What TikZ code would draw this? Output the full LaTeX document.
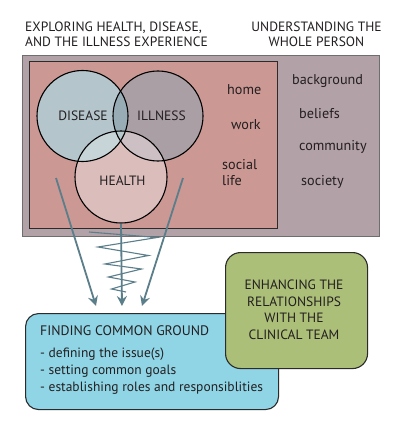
\documentclass[tikz,border=0pt]{standalone}
\usepackage{fontspec}
\setmainfont{PT Sans}
\usetikzlibrary{arrows.meta}
\definecolor{outerfill}{HTML}{B2A1A7}
\definecolor{outerline}{HTML}{6E6E6E}
\definecolor{innerfill}{HTML}{CC9894}
\definecolor{innerline}{HTML}{2B2B2B}
\definecolor{cdisease}{HTML}{B4C5CC}
\definecolor{cillness}{HTML}{AB9FA6}
\definecolor{chealth}{HTML}{DBBDBB}
\definecolor{cdi}{HTML}{97ACB5}
\definecolor{cdh}{HTML}{C7D5D9}
\definecolor{cih}{HTML}{CCC0C5}
\definecolor{cdih}{HTML}{B7C8CC}
\definecolor{arrowc}{HTML}{5B7E8B}
\definecolor{bluefill}{HTML}{8FD5E6}
\definecolor{greenfill}{HTML}{ACBF79}
\definecolor{txt}{HTML}{231F20}
\begin{document}
\begin{tikzpicture}[x=1pt,y=-1pt,
  every node/.style={text=txt, font=\fontsize{13.5}{16}\selectfont},
  lbl/.style={anchor=base, inner sep=0pt},
  lblw/.style={anchor=base west, inner sep=0pt},
  small/.style={font=\fontsize{14.2}{16}\selectfont},
  bullet/.style={font=\fontsize{13.5}{16}\selectfont},
  ring/.style={circle, draw=black, line width=1.1pt, inner sep=0pt},
  conn/.style={draw=arrowc, line width=1.8pt, -{Stealth[length=10pt,width=10pt,inset=3.5pt]}},
  zig/.style={draw=arrowc, line width=1.1pt},
  box/.style={draw=innerline, line width=1.1pt, rounded corners=13pt, anchor=north west, inner sep=0pt}]
\useasboundingbox (0,0) rectangle (400,428);
\fill[white] (0,0) rectangle (400,428);

% headers
\node[lblw] (h1a) at (25,32) {EXPLORING HEALTH, DISEASE,};
\node[lblw] (h1b) at (25,47) {AND THE ILLNESS EXPERIENCE};
\node[lbl] (h2a) at (316.5,32) {UNDERSTANDING THE};
\node[lbl] (h2b) at (316.5,47) {WHOLE PERSON};

% outer and inner rectangles
\node[draw=outerline, fill=outerfill, line width=1.2pt, minimum width=357pt, minimum height=181pt, anchor=north west, inner sep=0pt] (outer) at (22,55) {};
\node[draw=innerline, fill=innerfill, line width=1.1pt, minimum width=248pt, minimum height=167pt, anchor=north west, inner sep=0pt] (inner) at (29,61) {};

% circles
\node[ring, draw=none, fill=cdisease, minimum size=91pt] (disease) at (82.5,116) {};
\node[ring, draw=none, fill=cillness, minimum size=90pt] (illness) at (158,116) {};
\begin{scope}
  \clip (disease.center) circle[radius=45.5pt];
  \fill[cdi] (illness.center) circle[radius=45pt];
\end{scope}
\node[ring, draw=none, fill=chealth, minimum size=92pt] (health) at (121,177) {};
\begin{scope}
  \clip (health.center) circle[radius=46pt];
  \fill[cdh] (disease.center) circle[radius=45.5pt];
  \fill[cih] (illness.center) circle[radius=45pt];
  \clip (disease.center) circle[radius=45.5pt];
  \fill[cdih] (illness.center) circle[radius=45pt];
\end{scope}
\draw[line width=1.1pt] (disease.center) circle[radius=45.5pt];
\draw[line width=1.1pt] (illness.center) circle[radius=45pt];
\draw[line width=1.1pt] (health.center) circle[radius=46pt];

\node[lbl] (tdisease) at (83,120) {DISEASE};
\node[lbl] (tillness) at (161.5,120) {ILLNESS};
\node[lbl] (thealth) at (122.5,185) {HEALTH};

% inner labels
\node[lblw, small] (home) at (227,94) {home};
\node[lblw, small] (work) at (231,129) {work};
\node[lblw, small] (social) at (222,169) {social};
\node[lblw, small] (life) at (222,185) {life};

% outer labels
\node[lblw, small] (background) at (292,84) {background};
\node[lblw, small] (beliefs) at (299,118) {beliefs};
\node[lblw, small] (community) at (299,150) {community};
\node[lblw, small] (society) at (301,185) {society};

% zigzag
\draw[zig] (89,232) -- (157,237.5) -- (98,247) -- (148.5,255.5) -- (105,264) -- (141.5,269) -- (108.5,277) -- (135,282) -- (111.5,289) -- (126,292);

% arrows
\coordinate (lstart) at (56,178);
\coordinate (lend) at (96,306);
\coordinate (rstart) at (183,178);
\coordinate (rend) at (142,306);
\coordinate (mend) at (122,306);
\draw[conn] (lstart) -- (lend);
\draw[conn] (rstart) -- (rend);
\draw[conn] (health.south) -- (mend);

% blue box
\node[box, fill=bluefill, minimum width=253pt, minimum height=96pt] (common) at (25,313) {};
\node[lblw, font=\fontsize{13.8}{16}\selectfont] (c1) at (40,335) {FINDING COMMON GROUND};
\node[lblw, bullet] (c2) at (40,357) {- defining the issue(s)};
\node[lblw, bullet] (c3) at (40,374) {- setting common goals};
\node[lblw, bullet] (c4) at (40,391) {- establishing roles and responsiblities};

% green box
\node[box, fill=greenfill, rounded corners=15pt, minimum width=142pt, minimum height=116pt] (team) at (225,252) {};
\node[lbl] (g1) at (294,289) {ENHANCING THE};
\node[lbl] (g2) at (294,306) {RELATIONSHIPS};
\node[lbl] (g3) at (294,322.5) {WITH THE};
\node[lbl] (g4) at (294,339) {CLINICAL TEAM};
\end{tikzpicture}
\end{document}
